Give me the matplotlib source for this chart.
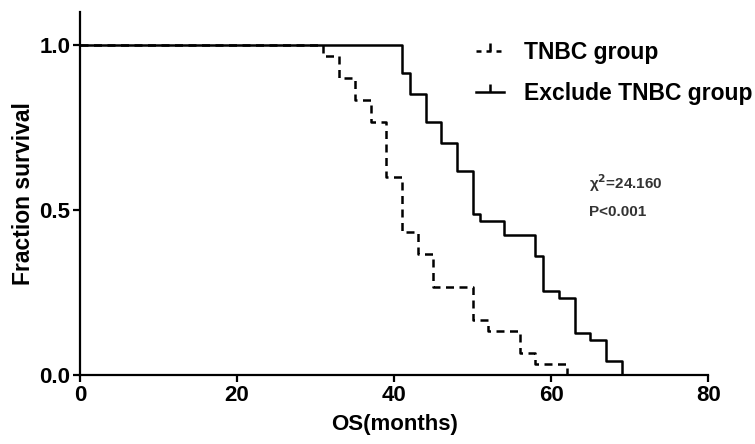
import matplotlib
matplotlib.use("Agg")
import matplotlib.pyplot as plt
from matplotlib.lines import Line2D

plt.rcParams['font.family'] = ['Liberation Sans', 'DejaVu Sans']
plt.rcParams['font.weight'] = 'bold'

# Kaplan-Meier step values
tnbc_months = [0, 31, 33, 35, 37, 39, 41, 43, 45, 50, 52, 56, 58, 62]
tnbc_surv = [1.0, 0.967, 0.9, 0.833, 0.767, 0.6, 0.433, 0.367, 0.267, 0.167, 0.133, 0.067, 0.033, 0.0]

other_months = [0, 41, 42, 44, 46, 48, 50, 51, 54, 58, 59, 61, 63, 65, 67, 69]
other_surv = [1.0, 0.915, 0.851, 0.766, 0.702, 0.617, 0.489, 0.468, 0.426, 0.362, 0.255, 0.234, 0.128, 0.106, 0.043, 0.0]

x_ticks = [0, 20, 40, 60, 80]
y_ticks = [0.0, 0.5, 1.0]
labels = ['TNBC group', 'Exclude TNBC group']

fig = plt.figure(figsize=(7.55, 4.44), dpi=100)
ax = fig.add_axes([0.106, 0.155, 0.832, 0.818])

ax.step(tnbc_months, tnbc_surv, where='post', color='black', lw=1.8, ls=(0, (3.2, 2.2)))
ax.step(other_months, other_surv, where='post', color='black', lw=1.8)

ax.set_xlim(0, 80)
ax.set_ylim(0, 1.1)
ax.set_xticks(x_ticks)
ax.set_yticks(y_ticks)
ax.set_yticklabels(['0.0', '0.5', '1.0'])
ax.tick_params(labelsize=16, width=1.6, length=5, direction='out', pad=2)
for s in ['top', 'right']:
    ax.spines[s].set_visible(False)
for s in ['left', 'bottom']:
    ax.spines[s].set_linewidth(1.6)

ax.set_xlabel('OS(months)', fontsize=16, fontweight='bold', labelpad=6)
ax.set_ylabel('Fraction survival', fontsize=16.5, fontweight='bold', labelpad=3)

handles = [
    Line2D([], [], color='black', lw=1.8, ls=(0, (2, 2)), marker=2, markersize=6, markeredgewidth=1.8),
    Line2D([], [], color='black', lw=1.8, marker=2, markersize=6, markeredgewidth=1.8),
]
ax.legend(handles, labels, loc='upper left', bbox_to_anchor=(0.605, 0.965), frameon=False,
          fontsize=16.5, handlelength=1.2, handletextpad=0.9, labelspacing=0.8, numpoints=1,
          borderaxespad=0.3)

ax.text(0.81, 0.529, r'χ$^2$=24.160', transform=ax.transAxes, fontsize=11, fontweight='bold',
        color='#333333', va='center')
ax.text(0.81, 0.449, 'P<0.001', transform=ax.transAxes, fontsize=11, fontweight='bold',
        color='#333333', va='center')

fig.savefig('out.png', dpi=100)
